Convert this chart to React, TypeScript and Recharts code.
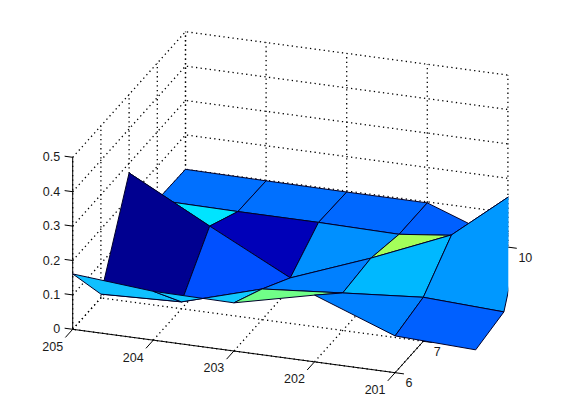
import { Scatter, ScatterChart, XAxis, YAxis } from "recharts";

// surface grid
const xValues = [205, 204, 203, 202, 201, 200];
const yValues = [10, 9, 8, 7, 6];

const zAtY10 = [0.1, 0.098, 0.097, 0.097, 0.012, 0.02];
const zAtY9 = [0.102, 0.1, 0.1, 0.097, 0.124, 0.172];
const zAtY8 = [0.272, 0.149, 0.03, 0.119, 0.218, 0.406];
const zAtY7 = [0.011, 0.02, 0.089, 0.109, 0.128, 0.117];
const zAtY6 = [0.161, 0.142, 0.14, 0.194, 0.107, 0.098];
const zRows = [zAtY10, zAtY9, zAtY8, zAtY7, zAtY6];

// one colour per face, from the back row to the front row
const facesY9to10 = ["#0070ff", "#0070ff", "#0068ff", "#0060ff", "#0098ff"];
const facesY8to9 = ["#00e4ff", "#0000b8", "#0090ff", "#a4ff5a", "#0098ff"];
const facesY7to8 = ["#000090", "#0050ff", "#0080ff", "#00b8ff", "#0098ff"];
const facesY6to7 = ["#10c0ff", "#10c8ff", "#70ff88", "#0080ff", "#0060ff"];
const faceRows = [facesY9to10, facesY8to9, facesY7to8, facesY6to7];

const xTicks = [205, 204, 203, 202, 201];
const yTicks = [6, 7, 8, 9, 10];
const zTicks = [0, 0.1, 0.2, 0.3, 0.4, 0.5];
const yTickLabels = [6, 7, 10];

type Pt = { px: number; py: number };

// MATLAB style orthographic view, worked out from the box corners
const project = (x: number, y: number, z: number): Pt => ({
  px: 72.7 + (205 - x) * 80.6 + (y - 6) * 28.2,
  py: 329.3 + (205 - x) * 10.85 - (y - 6) * 31.4 - z * 344,
});

const faces: { corners: Pt[]; fill: string }[] = [];
faceRows.forEach((row, r) => {
  row.forEach((fill, c) => {
    faces.push({
      fill,
      corners: [
        project(xValues[c], yValues[r], zRows[r][c]),
        project(xValues[c + 1], yValues[r], zRows[r][c + 1]),
        project(xValues[c + 1], yValues[r + 1], zRows[r + 1][c + 1]),
        project(xValues[c], yValues[r + 1], zRows[r + 1][c]),
      ],
    });
  });
});

const gridSegments: Pt[][] = [
  ...xTicks.map((x) => [project(x, 6, 0), project(x, 10, 0), project(x, 10, 0.5)]),
  ...yTicks.map((y) => [project(201, y, 0), project(205, y, 0), project(205, y, 0.5)]),
  ...zTicks.map((z) => [project(205, 6, z), project(205, 10, z), project(201, 10, z)]),
];

const axisSegments: Pt[][] = [
  [project(205, 6, 0.5), project(205, 6, 0), project(201, 6, 0), project(201, 10, 0)],
  ...xTicks.map((x) => [project(x, 6, 0), project(x, 5.74, 0)]),
  ...yTicks.map((y) => [project(201, y, 0), project(200.89, y, 0)]),
  ...zTicks.map((z) => [project(205, 6, z), project(205.1, 6, z)]),
];

const xLabelData = xTicks.map((x) => ({ ...project(x, 6, 0), text: String(x) }));
const yLabelData = yTickLabels.map((y) => ({ ...project(201, y, 0), text: String(y) }));
const zLabelData = zTicks.map((z) => ({ ...project(205, 6, z), text: String(z) }));

const clipRight = project(201, 10, 0).px + 0.4;
const labelStyle = { fontFamily: "'Liberation Sans', Arial, sans-serif", fontSize: 12.5, fill: "#1a1a1a" };

const noDot = () => null;

const polyline = (dash?: string, width = 1) => (props: any) => (
  <polyline
    points={props.points.map((p: any) => `${p.x},${p.y}`).join(" ")}
    fill="none"
    stroke="#000"
    strokeWidth={width}
    strokeDasharray={dash}
  />
);

const face = (fill: string) => (props: any) => (
  <polygon
    points={props.points.map((p: any) => `${p.x},${p.y}`).join(" ")}
    fill={fill}
    stroke="#00002a"
    strokeWidth={1}
    strokeLinejoin="round"
    clipPath="url(#surfaceClip)"
  />
);

const label = (dx: number, dy: number, anchor: string) => (props: any) => (
  <text
    x={props.cx + dx}
    y={props.cy + dy}
    textAnchor={anchor}
    dominantBaseline="central"
    style={labelStyle}
  >
    {props.payload.text}
  </text>
);

export default function App() {
  return (
    <div style={{ position: "absolute", left: 0, top: 0, width: 561, height: 420, background: "#fff" }}>
      <ScatterChart width={561} height={420} margin={{ top: 0, right: 0, bottom: 0, left: 0 }}>
        <defs>
          <clipPath id="surfaceClip">
            <rect x={0} y={0} width={clipRight} height={420} />
          </clipPath>
        </defs>
        <XAxis type="number" dataKey="px" domain={[0, 561]} allowDataOverflow hide />
        <YAxis type="number" dataKey="py" domain={[0, 420]} reversed allowDataOverflow hide />

        {gridSegments.map((seg, i) => (
          <Scatter key={`grid${i}`} data={seg} shape={noDot} line={polyline("1.3 3.3", 1.3)} isAnimationActive={false} />
        ))}
        {axisSegments.map((seg, i) => (
          <Scatter key={`axis${i}`} data={seg} shape={noDot} line={polyline()} isAnimationActive={false} />
        ))}
        {faces.map((f, i) => (
          <Scatter key={`face${i}`} data={f.corners} shape={noDot} line={face(f.fill)} isAnimationActive={false} />
        ))}

        <Scatter data={xLabelData} shape={label(-20, 17.4, "middle")} isAnimationActive={false} />
        <Scatter data={yLabelData} shape={label(10.5, 10.5, "start")} isAnimationActive={false} />
        <Scatter data={zLabelData} shape={label(-12.5, 0, "end")} isAnimationActive={false} />
      </ScatterChart>
    </div>
  );
}
